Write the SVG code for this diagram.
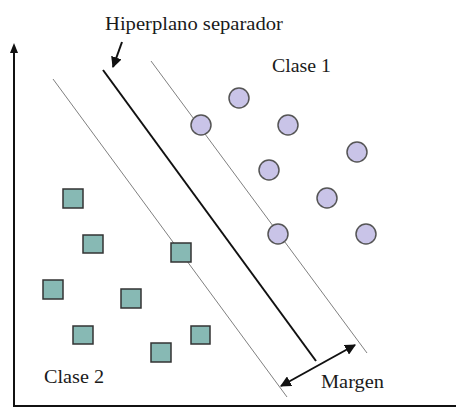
<svg xmlns="http://www.w3.org/2000/svg" width="456" height="409" viewBox="0 0 456 409">
<defs>
<style>
.t{font-family:"Liberation Serif","DejaVu Serif",serif;font-size:18.5px;fill:#1a1a1a}
.c{fill:#c9c4e8;stroke:#555;stroke-width:1.5}
.s{fill:#87b9b4;stroke:#333;stroke-width:1.5}
.m{stroke:#808080;stroke-width:1;fill:none}
.k{stroke:#111;stroke-width:2;fill:none}
</style>
<marker id="ah" viewBox="0 0 10 10" refX="9" refY="5" markerWidth="5.5" markerHeight="5.5" orient="auto-start-reverse">
<path d="M0,0 L10,5 L0,10 z" fill="#111"/>
</marker>
</defs>
<rect width="456" height="409" fill="#fff"/>
<g id="axes">
<line x1="14" y1="407" x2="14" y2="52" stroke="#111" stroke-width="2"/>
<path d="M14,43 L10,53 L18,53 z" fill="#111"/>
<line x1="13" y1="406" x2="456" y2="406" stroke="#111" stroke-width="2"/>
</g>
<g id="connectors">
<line class="m" x1="53" y1="79" x2="287" y2="397"/>
<line class="m" x1="151" y1="61" x2="367" y2="353"/>
<line class="k" x1="103" y1="70" x2="316" y2="361"/>
<line class="k" x1="122" y1="42" x2="113" y2="67" marker-end="url(#ah)"/>
<line class="k" x1="281" y1="386" x2="355" y2="345" marker-start="url(#ah)" marker-end="url(#ah)"/>
</g>
<g id="clase1">
<circle class="c" cx="239" cy="98" r="10"/>
<circle class="c" cx="201" cy="125" r="10"/>
<circle class="c" cx="288" cy="125" r="10"/>
<circle class="c" cx="357" cy="152" r="10"/>
<circle class="c" cx="269" cy="170" r="10"/>
<circle class="c" cx="327" cy="198" r="10"/>
<circle class="c" cx="278" cy="234" r="10"/>
<circle class="c" cx="366" cy="234" r="10"/>
</g>
<g id="clase2">
<rect class="s" x="63" y="189" width="20" height="19"/>
<rect class="s" x="83" y="235" width="20" height="18"/>
<rect class="s" x="171" y="243" width="20" height="19"/>
<rect class="s" x="43" y="280" width="20" height="19"/>
<rect class="s" x="121" y="289" width="20" height="19"/>
<rect class="s" x="73" y="326" width="20" height="18"/>
<rect class="s" x="191" y="326" width="19" height="18"/>
<rect class="s" x="151" y="343" width="20" height="19"/>
</g>
<g id="labels">
<text class="t" x="105" y="30" textLength="178" lengthAdjust="spacingAndGlyphs">Hiperplano separador</text>
<text class="t" x="272" y="72" textLength="59" lengthAdjust="spacingAndGlyphs">Clase 1</text>
<text class="t" x="44" y="383" textLength="60" lengthAdjust="spacingAndGlyphs">Clase 2</text>
<text class="t" x="321" y="388" textLength="63" lengthAdjust="spacingAndGlyphs">Margen</text>
</g>
</svg>
